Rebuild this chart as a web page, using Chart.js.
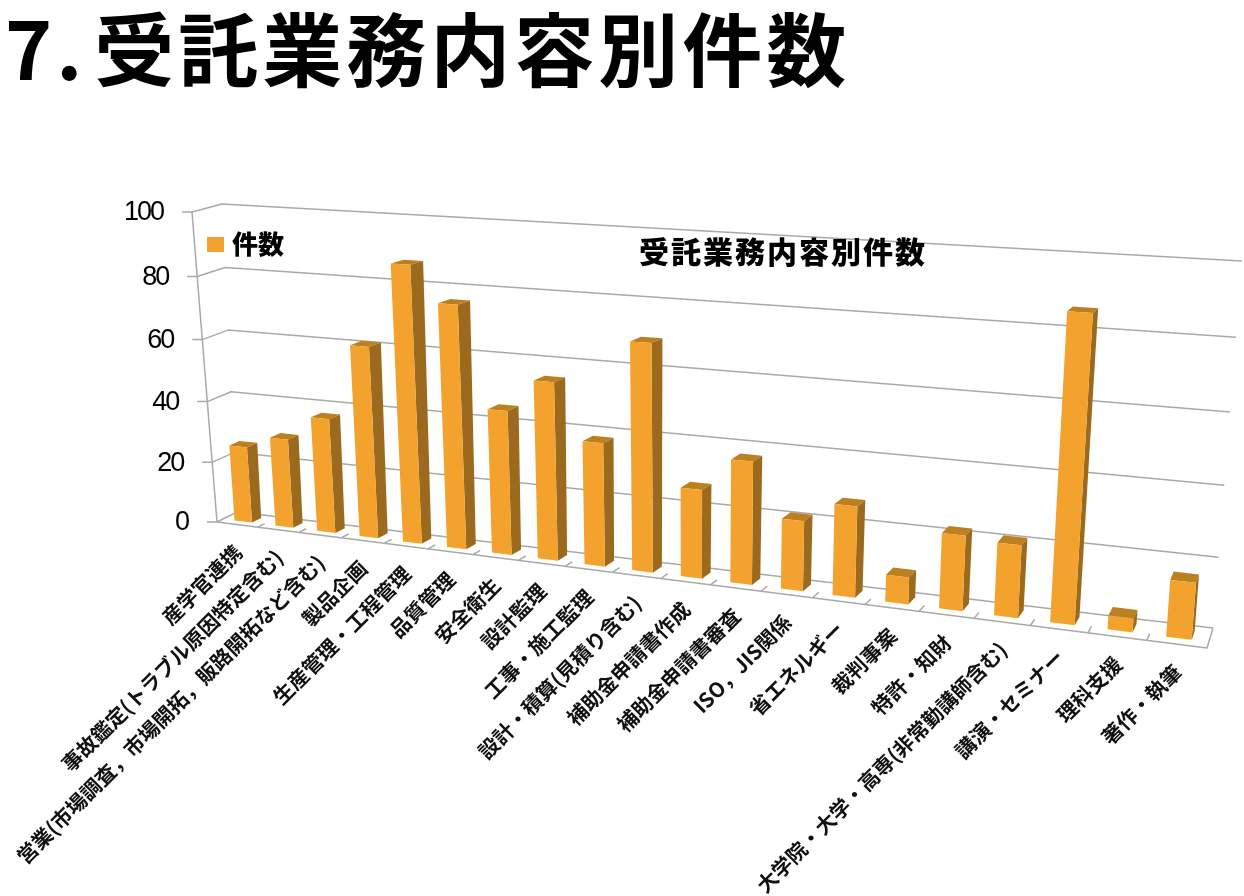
<!DOCTYPE html>
<html>
<head>
    <meta charset="UTF-8">
    <title>受託業務内容別件数</title>
    <script src="https://cdn.jsdelivr.net/npm/chart.js"></script>
    <style>
        html, body { margin: 0; background: #fff; }
        canvas { display: block; }
    </style>
</head>
<body>
    <canvas id="chart" width="1244" height="896"></canvas>
    <script>
        var categories = ['産学官連携', '事故鑑定(トラブル原因特定含む)', '営業(市場調査\uFF0C市場開拓\uFF0C販路開拓など含む)', '製品企画',
            '生産管理・工程管理', '品質管理', '安全衛生', '設計監理', '工事・施工監理', '設計・積算(見積り含む)',
            '補助金申請書作成', '補助金申請書審査', 'ISO\uFF0CJIS関係', '省エネルギー', '裁判事案', '特許・知財',
            '大学院・大学・高専(非常勤講師含む)', '講演・セミナー', '理科支援', '著作・執筆'];
        var counts = [25, 29, 37, 61, 87, 76, 45, 55, 38, 69, 27, 37, 21, 27, 8, 22, 21, 86, 4, 16];
        var yTicks = [0, 20, 40, 60, 80, 100];
        var seriesName = '件数';
        var heading = '7. 受託業務内容別件数';
        var chartTitle = '受託業務内容別件数';

        var jp = '"Noto Sans CJK JP"';

        // unit square -> quad, corners in order (0,0) (1,0) (1,1) (0,1)
        function makeHomography(p) {
            var dx1 = p[1][0] - p[2][0], dx2 = p[3][0] - p[2][0], sx = p[0][0] - p[1][0] + p[2][0] - p[3][0];
            var dy1 = p[1][1] - p[2][1], dy2 = p[3][1] - p[2][1], sy = p[0][1] - p[1][1] + p[2][1] - p[3][1];
            var den = dx1 * dy2 - dx2 * dy1;
            var g = (sx * dy2 - dx2 * sy) / den, h = (dx1 * sy - sx * dy1) / den;
            var a = p[1][0] - p[0][0] + g * p[1][0], b = p[3][0] - p[0][0] + h * p[3][0];
            var d = p[1][1] - p[0][1] + g * p[1][1], e = p[3][1] - p[0][1] + h * p[3][1];
            return function (u, v) {
                var w = g * u + h * v + 1;
                return [(a * u + b * v + p[0][0]) / w, (d * u + e * v + p[0][1]) / w];
            };
        }

        // the tilted box the 3D chart sits in
        var frontPlane = makeHomography([[217, 522], [1207, 648], [1237, 270], [192, 212]]);
        var backPlane = makeHomography([[237, 512], [1213, 628], [1242, 261], [222, 204]]);

        function project(u, v, depth) {
            var f = frontPlane(u, v), b = backPlane(u, v);
            return [f[0] + (b[0] - f[0]) * depth, f[1] + (b[1] - f[1]) * depth];
        }

        function poly(ctx, pts, fill) {
            ctx.beginPath();
            pts.forEach(function (pt, i) { i ? ctx.lineTo(pt[0], pt[1]) : ctx.moveTo(pt[0], pt[1]); });
            ctx.closePath();
            ctx.fillStyle = fill;
            ctx.fill();
        }

        function line(ctx, pts) {
            ctx.beginPath();
            pts.forEach(function (pt, i) { i ? ctx.lineTo(pt[0], pt[1]) : ctx.moveTo(pt[0], pt[1]); });
            ctx.stroke();
        }

        var perspective = {
            id: 'perspective',
            // heading is drawn by the title plugin, it is wider than the font so space it out here
            beforeDraw: function (chart) {
                chart.ctx.letterSpacing = '4px';
                chart.ctx.wordSpacing = '-14px';
            },
            // grid, axes and labels go in before the bars
            beforeDatasetsDraw: function (chart) {
                var ctx = chart.ctx, area = chart.chartArea, x = chart.scales.x, y = chart.scales.y;
                ctx.letterSpacing = '0px';
                ctx.wordSpacing = '0px';
                ctx.save();
                ctx.strokeStyle = '#a9a9a9';
                ctx.lineWidth = 1.5;
                ctx.lineJoin = 'round';

                yTicks.forEach(function (t) {
                    var v = (area.bottom - y.getPixelForValue(t)) / area.height;
                    var a = project(0, v, 0);
                    line(ctx, [[a[0] - 10, a[1]], a, project(0, v, 1), project(1, v, 1)]);
                    ctx.fillStyle = '#000';
                    ctx.font = '27px "Liberation Sans"';
                    ctx.letterSpacing = '-2px';
                    ctx.textAlign = 'right';
                    ctx.textBaseline = 'middle';
                    ctx.fillText(String(t), a[0] - 29, a[1] + 1);
                });
                ctx.letterSpacing = '0px';

                line(ctx, [project(0, 0, 0), project(0, 1, 0)]);
                line(ctx, [project(0, 0, 0), project(1, 0, 0), project(1, 0, 1)]);

                categories.forEach(function (label, i) {
                    var u = (x.getPixelForValue(i) - area.left) / area.width;
                    var step = 1 / categories.length;
                    if (i > 0) line(ctx, [project(u - step / 2, 0, 0), project(u - step / 2, 0, 0.35)]);
                    var p = project(u, 0, 0);
                    ctx.save();
                    ctx.translate(p[0] + 1, p[1] + 24);
                    ctx.rotate(-Math.PI / 4);
                    ctx.fillStyle = '#111';
                    ctx.font = '700 20.5px ' + jp;
                    ctx.textAlign = 'right';
                    ctx.textBaseline = 'middle';
                    ctx.fillText(label, 0, 0);
                    ctx.restore();
                });

                // legend and inner title
                ctx.fillStyle = '#f3a32d';
                ctx.fillRect(207, 237, 17, 15);
                ctx.fillStyle = '#000';
                ctx.font = '900 26px ' + jp;
                ctx.textAlign = 'left';
                ctx.textBaseline = 'middle';
                ctx.fillText(seriesName, 232, 244);
                ctx.font = '900 30px ' + jp;
                ctx.letterSpacing = '2px';
                ctx.textAlign = 'center';
                ctx.fillText(chartTitle, 783, 252);
                ctx.restore();
            },
            // bars keep the positions the bar controller worked out, only the drawing is tilted
            beforeDatasetDraw: function (chart, args) {
                var ctx = chart.ctx, area = chart.chartArea;
                var d0 = 0.3, d1 = 0.75;
                args.meta.data.forEach(function (bar) {
                    var u0 = (bar.x - bar.width / 2 - area.left) / area.width;
                    var u1 = (bar.x + bar.width / 2 - area.left) / area.width;
                    var v0 = (area.bottom - bar.base) / area.height;
                    var v1 = (area.bottom - bar.y) / area.height;
                    poly(ctx, [project(u0, v1, d0), project(u1, v1, d0), project(u1, v1, d1), project(u0, v1, d1)], '#bd8020');
                    poly(ctx, [project(u1, v0, d0), project(u1, v0, d1), project(u1, v1, d1), project(u1, v1, d0)], '#9c6a1e');
                    poly(ctx, [project(u0, v0, d0), project(u1, v0, d0), project(u1, v1, d0), project(u0, v1, d0)], '#f3a32d');
                });
                return false;
            }
        };

        new Chart(document.getElementById('chart'), {
            type: 'bar',
            data: {
                labels: categories,
                datasets: [{ label: seriesName, data: counts, backgroundColor: '#f3a32d', categoryPercentage: 1, barPercentage: 0.43 }]
            },
            options: {
                responsive: false,
                animation: false,
                layout: { padding: { left: 5 } },
                scales: {
                    x: { display: false },
                    y: { display: false, min: 0, max: 100, ticks: { stepSize: 20 } }
                },
                plugins: {
                    legend: { display: false },
                    tooltip: { enabled: false },
                    title: {
                        display: true,
                        text: heading,
                        align: 'start',
                        color: '#000',
                        font: { family: jp, size: 80, weight: '700' },
                        padding: { top: 2, bottom: 10 }
                    }
                }
            },
            plugins: [perspective]
        });
    </script>
</body>
</html>
